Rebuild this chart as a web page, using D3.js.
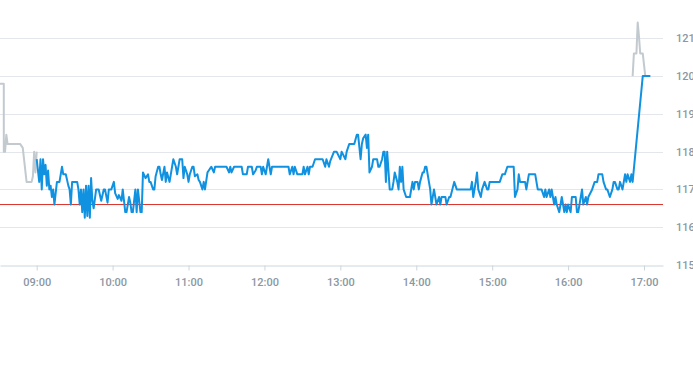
<!DOCTYPE html>
<html>
<head>
<meta charset="utf-8">
<script src="https://cdn.jsdelivr.net/npm/d3@7"></script>
<style>
  html, body { margin: 0; padding: 0; background: #ffffff; }
  svg { display: block; }
  .tick-label { font-family: Roboto, "Noto Sans", sans-serif; font-size: 11px; fill: #8b97a3; font-weight: 500; }
</style>
</head>
<body>
<svg id="chart" width="693" height="365"></svg>
<script>
// ---------- data ----------
const preTimes = ["08:31","08:34","08:34","08:35","08:36","08:37","08:47","08:49","08:52","08:56","08:57","08:58","08:59","09:00"];
const preValues = [119.8,119.8,118.0,118.0,118.45,118.2,118.2,118.1,117.2,117.2,117.35,118.0,117.45,118.0];

const sessionTimes = [
"09:00","09:02","09:03","09:04","09:05","09:06","09:07","09:08","09:09","09:10","09:11","09:12","09:13","09:14","09:15","09:16","09:18","09:19","09:20","09:21","09:23","09:25","09:26","09:27","09:28","09:32","09:33","09:34","09:35","09:36","09:37","09:38","09:39","09:40","09:41","09:42","09:43","09:44","09:45","09:47","09:49","09:51","09:53","09:54","09:56","09:57","09:59",
"10:01","10:02","10:04","10:05","10:07","10:08","10:10","10:11","10:13","10:14","10:15","10:16","10:18","10:19","10:20","10:22","10:23","10:24","10:26","10:28","10:29","10:30","10:32","10:33","10:34","10:36","10:37","10:38","10:39","10:41","10:42","10:43","10:45","10:46","10:47","10:48","10:50","10:51","10:52","10:53","10:55","10:56","10:57","10:59",
"11:00","11:01","11:03","11:04","11:05","11:07","11:08","11:09","11:11","11:12","11:13","11:15","11:16","11:17","11:18","11:20","11:21","11:30","11:32","11:33","11:34","11:36","11:42","11:43","11:46","11:47","11:50","11:51","11:53","11:54","11:57","11:58","11:59",
"12:01","12:02","12:03","12:05","12:06","12:19","12:20","12:22","12:23","12:24","12:26","12:30","12:31","12:32","12:34","12:35","12:36","12:38","12:40","12:46","12:48","12:49","12:51","12:52","12:55","12:57",
"13:00","13:01","13:04","13:05","13:07","13:11","13:13","13:14","13:16","13:17","13:18","13:20","13:21","13:22","13:23","13:25","13:26","13:29","13:30","13:31","13:33","13:34","13:35","13:36","13:37","13:39","13:41","13:42","13:43","13:45","13:46","13:47","13:48","13:49","13:50","13:52","13:55","13:57","13:58","13:59",
"14:01","14:02","14:03","14:05","14:06","14:07","14:08","14:10","14:11","14:12","14:14","14:15","14:16","14:18","14:19","14:20","14:23","14:24","14:26","14:27","14:30","14:32","14:43","14:44","14:45","14:47","14:48","14:49","14:51","14:52","14:54","14:56","14:57","14:58",
"15:06","15:08","15:10","15:12","15:17","15:18","15:20","15:21","15:22","15:26","15:27","15:29","15:34","15:36","15:39","15:41","15:42","15:43","15:45","15:46","15:47","15:49","15:50","15:51","15:53","15:54","15:55","15:57","15:58","15:59",
"16:00","16:02","16:03","16:06","16:07","16:08","16:10","16:11","16:12","16:14","16:15","16:16","16:19","16:21","16:23","16:24","16:27","16:28","16:30","16:31","16:33","16:35","16:36","16:37","16:39","16:40","16:41","16:43","16:44","16:45","16:46","16:47","16:49","16:50","16:51","16:59","17:05"
];
const sessionValues = [
117.8,117.2,117.8,117.0,117.8,117.4,117.65,117.1,117.5,117.0,117.1,116.8,117.0,116.6,116.9,117.2,117.2,117.4,117.6,117.4,117.4,117.1,117.0,116.6,117.2,117.2,117.0,116.6,117.0,116.4,117.0,116.25,117.1,116.3,117.1,116.25,117.3,116.7,116.5,117.0,117.0,116.7,117.0,117.0,116.65,117.0,117.0,
117.2,116.9,116.75,116.85,116.7,117.0,116.4,116.4,116.8,116.65,116.4,116.4,117.0,116.4,117.0,116.4,116.4,117.45,117.3,117.4,117.2,117.2,117.0,117.0,117.35,117.6,117.6,117.4,117.25,117.6,117.2,117.45,117.2,117.4,117.6,117.8,117.6,117.4,117.6,117.8,117.8,117.3,117.6,117.4,
117.2,117.4,117.6,117.6,117.35,117.4,117.25,117.2,117.0,117.2,117.0,117.45,117.5,117.55,117.6,117.45,117.6,117.6,117.45,117.6,117.45,117.6,117.6,117.4,117.4,117.6,117.6,117.4,117.5,117.6,117.6,117.4,117.6,
117.4,117.6,117.8,117.4,117.6,117.6,117.4,117.6,117.4,117.6,117.4,117.4,117.6,117.4,117.6,117.4,117.6,117.6,117.8,117.8,117.6,117.8,117.6,117.75,118.0,118.0,
117.8,118.0,117.8,118.0,118.2,118.2,118.45,118.45,117.8,118.2,118.35,118.45,118.1,118.45,117.45,117.6,117.8,117.8,117.6,117.6,117.8,118.0,118.0,117.2,118.0,117.0,117.0,117.2,117.45,117.2,117.0,117.6,117.2,117.6,117.0,116.8,116.8,117.2,117.0,117.2,
117.2,117.0,117.2,117.45,117.45,117.6,117.6,117.2,117.0,116.6,117.0,116.8,116.6,116.8,116.6,116.8,116.8,116.6,116.8,116.8,117.2,117.0,117.0,117.2,116.8,117.2,117.45,117.0,116.8,117.0,117.2,117.0,117.0,117.2,
117.2,117.4,117.4,117.6,117.6,116.8,117.0,117.4,117.2,117.2,117.0,117.4,117.4,117.0,117.0,116.8,117.0,116.8,117.0,116.8,117.0,116.6,116.8,116.6,116.4,116.6,116.8,116.4,116.6,116.4,
116.6,116.4,116.8,116.8,116.4,116.4,116.8,117.0,116.6,116.8,116.6,116.8,117.0,117.2,117.2,117.4,117.4,117.2,117.0,117.0,116.8,117.0,117.2,117.2,117.0,117.0,117.2,117.0,117.2,117.4,117.2,117.4,117.2,117.4,117.2,120.0,120.0
];

const postTimes = ["16:51","16:52","16:54","16:55","16:56","16:57","16:59","17:01"];
const postValues = [120.0,120.6,120.6,121.42,121.05,120.6,120.6,120.0];

const prevClose = 116.6;
const xTickLabels = ["09:00","10:00","11:00","12:00","13:00","14:00","15:00","16:00","17:00"];
const yTickValues = [115,116,117,118,119,120,121];
const xDomain = ["08:31","17:15"];

// ---------- chart ----------
const parse = d3.timeParse("%H:%M");
const svg = d3.select("#chart");
const plotLeft = 0, plotRight = 663, plotTop = 38.3, plotBottom = 265;

const x = d3.scaleTime().domain(xDomain.map(parse)).range([plotLeft, plotRight]);
const y = d3.scaleLinear().domain([115, 121]).range([plotBottom, plotTop]);

// gridlines
svg.append("g").selectAll("line").data(yTickValues.filter(v => v !== 115)).join("line")
  .attr("x1", plotLeft).attr("x2", plotRight)
  .attr("y1", d => Math.round(y(d)) + 0.5).attr("y2", d => Math.round(y(d)) + 0.5)
  .attr("stroke", "#e3e6ea").attr("stroke-width", 1);

// y labels (right side)
svg.append("g").selectAll("text").data(yTickValues).join("text")
  .attr("class", "tick-label")
  .attr("x", 676)
  .attr("y", d => y(d) + 4)
  .text(d => d);

// x axis
const xAxis = d3.axisBottom(x)
  .tickValues(xTickLabels.map(parse))
  .tickFormat(d3.timeFormat("%H:%M"))
  .tickSize(5)
  .tickSizeOuter(0)
  .tickPadding(8);
const gx = svg.append("g").attr("transform", `translate(0,${plotBottom + 0.5})`).call(xAxis);
gx.select(".domain").attr("stroke", "#ccd6dd");
gx.selectAll(".tick line").attr("stroke", "#ccd6dd");
gx.selectAll(".tick text").attr("class", "tick-label").attr("fill", null);

// previous close line
svg.append("line")
  .attr("x1", plotLeft).attr("x2", plotRight)
  .attr("y1", y(prevClose)).attr("y2", y(prevClose))
  .attr("stroke", "#d9322b").attr("stroke-width", 1);

const line = d3.line().x(d => x(d[0])).y(d => y(d[1]));
const zip = (ts, vs) => ts.map((t, i) => [parse(t), vs[i]]);

svg.append("path").datum(zip(preTimes, preValues))
  .attr("d", line).attr("fill", "none").attr("stroke", "#c2cad0").attr("stroke-width", 2).attr("stroke-linejoin", "round");
svg.append("path").datum(zip(postTimes, postValues))
  .attr("d", line).attr("fill", "none").attr("stroke", "#c2cad0").attr("stroke-width", 2).attr("stroke-linejoin", "round");
svg.append("path").datum(zip(sessionTimes, sessionValues))
  .attr("d", line).attr("fill", "none").attr("stroke", "#1192e1").attr("stroke-width", 2).attr("stroke-linejoin", "round");
</script>
</body>
</html>
